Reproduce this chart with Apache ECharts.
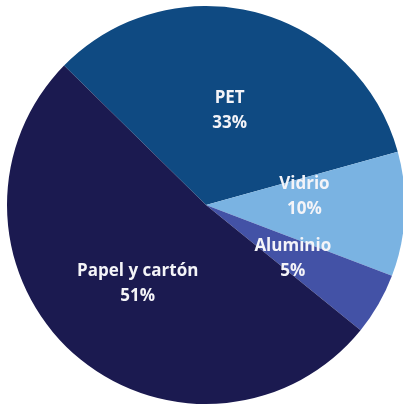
<!DOCTYPE html>
<html>
<head>
<meta charset="utf-8">
<script src="https://cdn.jsdelivr.net/npm/echarts@6/dist/echarts.min.js"></script>
<style>html,body{margin:0;padding:0;background:#fff;}#c{width:403px;height:405px;}</style>
</head>
<body>
<div id="c"></div>
<script>
const categories = ["PET", "Vidrio", "Aluminio", "Papel y cartón"];
const values = [33, 10, 5, 51];
const colors = ["#0f4a82", "#7ab3e2", "#4352a6", "#1b1a50"];
const labelOffsets = [[-2, 5], [-4, -13], [-2, 2], [0, 2]];

const chart = echarts.init(document.getElementById('c'));
chart.setOption({
  animation: false,
  series: [{
    type: 'pie',
    center: [206, 205],
    radius: [0, 199],
    startAngle: 135.5,
    clockwise: true,
    avoidLabelOverlap: false,
    data: categories.map((name, i) => ({
      name: name,
      value: values[i],
      itemStyle: { color: colors[i] },
      label: { offset: labelOffsets[i] }
    })),
    label: {
      show: true,
      position: 'inner',
      formatter: p => p.name + '\n' + p.value + '%',
      color: '#f4f4f8',
      fontFamily: 'Open Sans',
      fontWeight: 'bold',
      fontSize: 17,
      lineHeight: 25,
      align: 'center'
    },
    labelLine: { show: false },
    itemStyle: { borderWidth: 0 }
  }]
});
</script>
</body>
</html>
